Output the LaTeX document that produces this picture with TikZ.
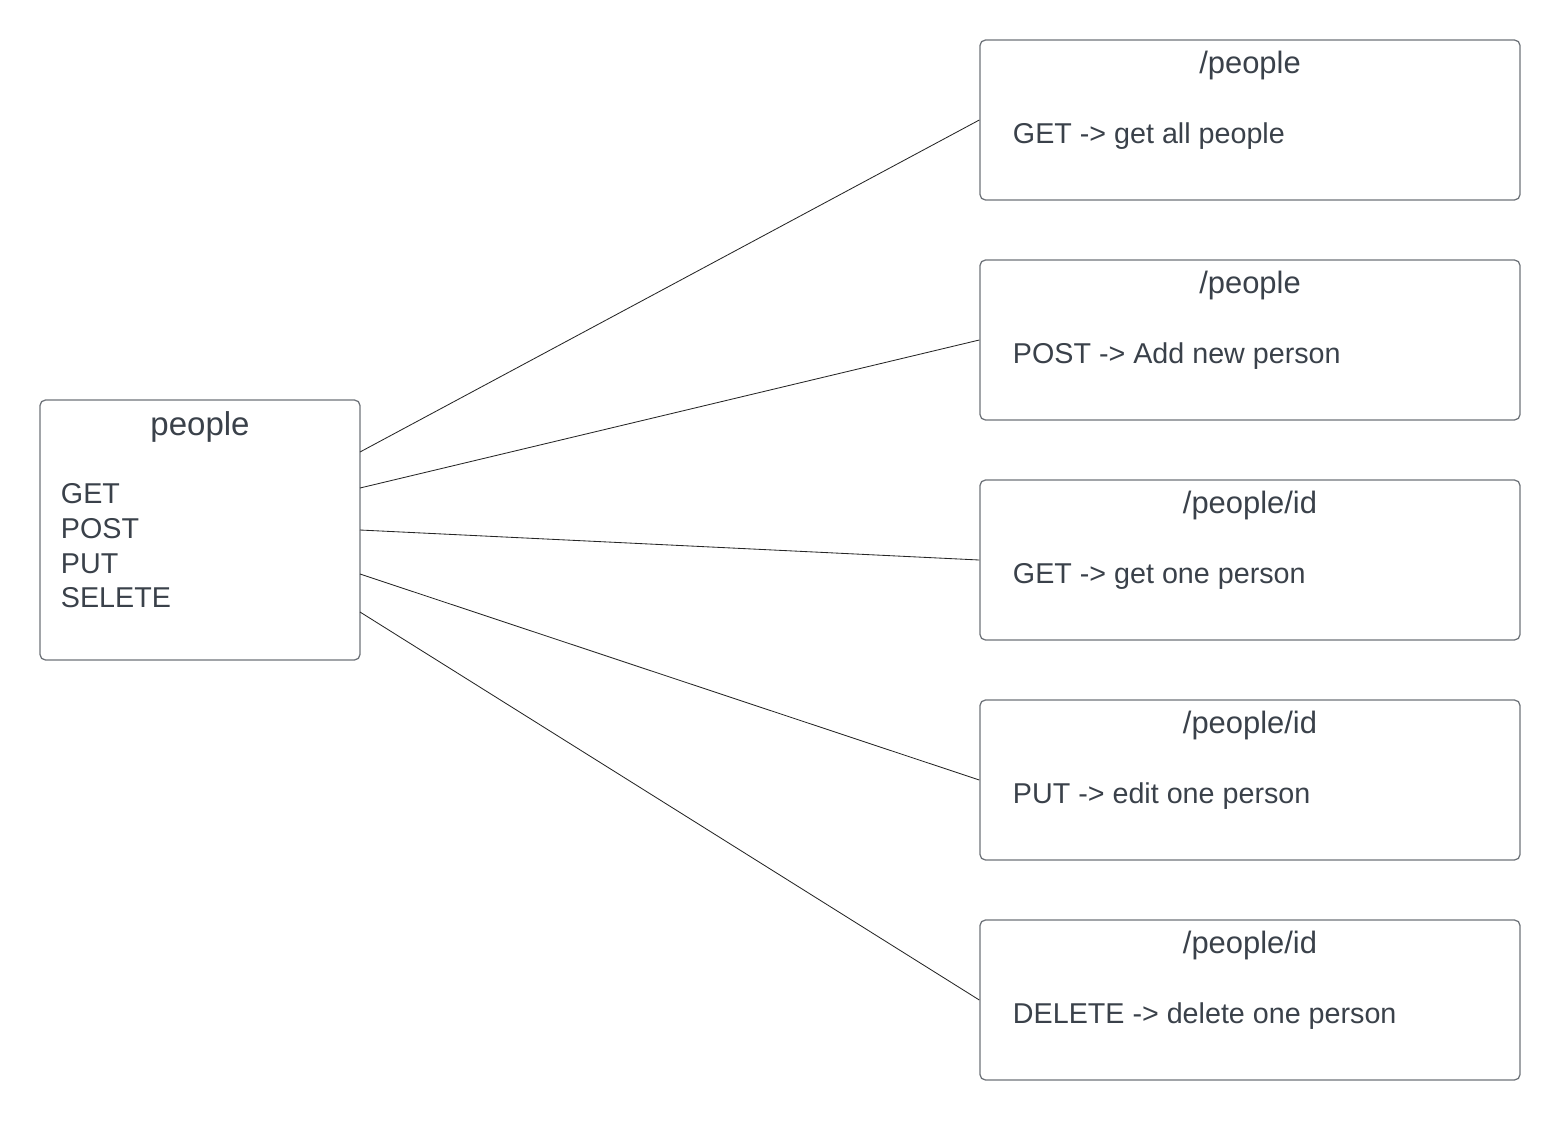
\documentclass[tikz,border=0pt]{standalone}
\usepackage{fontspec}
\setmainfont{Liberation Sans}
\usetikzlibrary{calc}

\definecolor{inkgray}{HTML}{3A414A}
\definecolor{framegray}{HTML}{6E7379}

\tikzset{
    endpoint/.style={draw=framegray, line width=0.9pt, rounded corners=4pt,
        minimum width=13.5cm, minimum height=4cm, inner sep=0pt},
    resource/.style={draw=framegray, line width=0.9pt, rounded corners=4pt,
        minimum width=8cm, minimum height=6.5cm, inner sep=0pt},
    headtext/.style={anchor=base, text=inkgray, font=\fontsize{22}{26}\selectfont},
    bodytext/.style={anchor=base west, text=inkgray, font=\fontsize{20.4}{24}\selectfont},
    link/.style={draw=black!85, line width=0.6pt}
}

\begin{document}
\begin{tikzpicture}[x=0.025cm, y=-0.025cm]
    % Fix the page to the reference size
    \useasboundingbox (0,0) rectangle (1560,1120);

    % Left resource box
    \node[resource] (res) at (200,530) {};
    \node[headtext, font=\fontsize{23.5}{28}\selectfont] (restitle) at (200,435) {people};
    \foreach \mname/\yy [count=\i] in {GET/503, POST/538, PUT/573, SELETE/607}{
        \node[bodytext] (verb\i) at (56,\yy) {\mname};
    }

    % Right endpoint boxes
    \foreach \route/\desc [count=\i] in {%
        {/people}/{GET -> get all people},
        {/people}/{POST -> Add new person},
        {/people/id}/{GET -> get one person},
        {/people/id}/{PUT -> edit one person},
        {/people/id}/{DELETE -> delete one person}}{
        \pgfmathsetmacro{\cy}{120+220*(\i-1)}
        \node[endpoint] (ep\i) at (1250,\cy) {};
        \node[headtext] (eptitle\i) at (1250,\cy-47) {\route};
        \node[bodytext] (epbody\i) at (1008,\cy+23) {\desc};
    }

    % Connectors from the resource box to each endpoint
    \coordinate (out1) at (360,452);
    \coordinate (out2) at (360,488);
    \coordinate (out3) at (360,530);
    \coordinate (out4) at (360,574);
    \coordinate (out5) at (360,612);
    \foreach \i in {1,...,5}{
        \draw[link] (out\i) -- (ep\i.west);
    }
\end{tikzpicture}
\end{document}
